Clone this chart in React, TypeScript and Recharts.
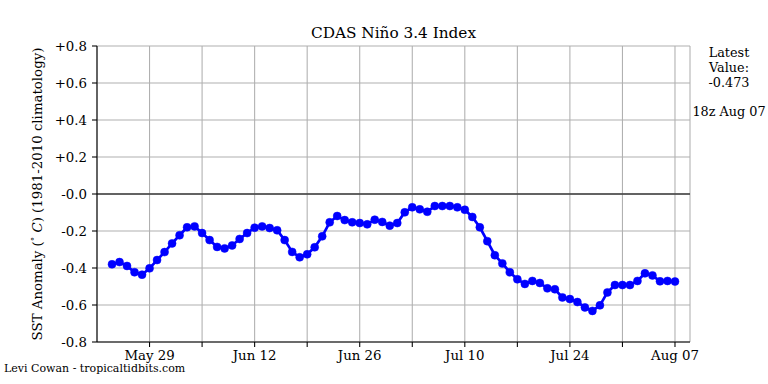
import React from 'react';
import { LineChart, Line, XAxis, YAxis, CartesianGrid, ReferenceLine } from 'recharts';

const axisStart = '05-22';
const axisEnd = '08-09';

const dates = [
  '05-24', '05-25', '05-26', '05-27', '05-28', '05-29', '05-30', '05-31',
  '06-01', '06-02', '06-03', '06-04', '06-05', '06-06', '06-07', '06-08', '06-09', '06-10',
  '06-11', '06-12', '06-13', '06-14', '06-15', '06-16', '06-17', '06-18', '06-19', '06-20',
  '06-21', '06-22', '06-23', '06-24', '06-25', '06-26', '06-27', '06-28', '06-29', '06-30',
  '07-01', '07-02', '07-03', '07-04', '07-05', '07-06', '07-07', '07-08', '07-09', '07-10',
  '07-11', '07-12', '07-13', '07-14', '07-15', '07-16', '07-17', '07-18', '07-19', '07-20',
  '07-21', '07-22', '07-23', '07-24', '07-25', '07-26', '07-27', '07-28', '07-29', '07-30',
  '07-31', '08-01', '08-02', '08-03', '08-04', '08-05', '08-06', '08-07',
];

const values = [
  -0.380, -0.368, -0.389, -0.423, -0.436, -0.402, -0.357, -0.314,
  -0.267, -0.223, -0.180, -0.175, -0.211, -0.249, -0.286, -0.294, -0.278, -0.243,
  -0.211, -0.182, -0.175, -0.184, -0.196, -0.249, -0.313, -0.342, -0.326, -0.288,
  -0.229, -0.153, -0.119, -0.141, -0.153, -0.157, -0.164, -0.139, -0.151, -0.171,
  -0.157, -0.099, -0.072, -0.083, -0.096, -0.065, -0.065, -0.065, -0.072, -0.085,
  -0.124, -0.180, -0.255, -0.331, -0.375, -0.423, -0.461, -0.486, -0.470, -0.481,
  -0.510, -0.515, -0.559, -0.568, -0.584, -0.613, -0.632, -0.602, -0.532, -0.492,
  -0.492, -0.492, -0.470, -0.429, -0.440, -0.472, -0.470, -0.473,
];

const tickDates = ['05-29', '06-05', '06-12', '06-19', '06-26', '07-03', '07-10', '07-17', '07-24', '07-31', '08-07'];
const tickLabels = ['May 29', '', 'Jun 12', '', 'Jun 26', '', 'Jul 10', '', 'Jul 24', '', 'Aug 07'];

const yTicks = [-0.8, -0.6, -0.4, -0.2, 0, 0.2, 0.4, 0.6, 0.8];

const titleText = 'CDAS Niño 3.4 Index';
const latestLines = ['Latest', 'Value:', '-0.473'];
const latestTime = '18z Aug 07';
const creditText = 'Levi Cowan - tropicaltidbits.com';

const toDay = (md: string) => {
  const [m, d] = md.split('-').map(Number);
  const [m0, d0] = axisStart.split('-').map(Number);
  return (Date.UTC(2000, m - 1, d) - Date.UTC(2000, m0 - 1, d0)) / 86400000;
};

const data = dates.map((d, i) => ({ day: toDay(d), value: values[i] }));
const xTicks = tickDates.map(toDay);
const xDomain = [toDay(axisStart), toDay(axisEnd)];

const FONT = '"DejaVu Serif", serif';

const fmtY = (v: number) => {
  if (Math.abs(v) < 1e-9) return '-0.0';
  return (v > 0 ? '+' : '') + v.toFixed(1);
};

const fmtX = (v: number) => {
  const idx = xTicks.findIndex((t) => Math.abs(t - v) < 1e-6);
  return idx >= 0 ? tickLabels[idx] : '';
};

const YLabel = (props: any) => {
  const vb = props.viewBox || {};
  const cx = vb.x;
  const cy = vb.y + vb.height / 2;
  return (
    <text
      x={cx}
      y={cy}
      transform={`rotate(-90 ${cx} ${cy})`}
      textAnchor="middle"
      dominantBaseline="central"
      fontFamily={FONT}
      fontSize={13.33}
      fill="#000"
    >
      SST Anomaly (
      <tspan fontSize={9} dy={-5}>∘</tspan>
      <tspan dy={5}> </tspan>
      <tspan fontStyle="italic">C</tspan>) (1981-2010 climatology)
    </text>
  );
};

export default function App() {
  return (
    <div style={{ position: 'absolute', left: 0, top: 0, width: 768, height: 384, background: '#fff', fontFamily: FONT }}>
      <LineChart width={768} height={384} data={data} margin={{ top: 46, right: 78, bottom: 12, left: 37 }}>
        <CartesianGrid stroke="#b0b0b0" strokeWidth={1.07} />
        <XAxis
          dataKey="day"
          type="number"
          domain={xDomain}
          ticks={xTicks}
          tickFormatter={fmtX}
          allowDataOverflow
          height={30}
          tickSize={5}
          tickMargin={4}
          axisLine={{ stroke: '#000', strokeWidth: 1.07 }}
          tickLine={{ stroke: '#000', strokeWidth: 1.07 }}
          tick={{ fill: '#000', fontSize: 13.33, fontFamily: FONT }}
          interval={0}
        />
        <XAxis
          xAxisId="top"
          orientation="top"
          dataKey="day"
          type="number"
          domain={xDomain}
          height={0}
          tick={false}
          tickLine={false}
          axisLine={{ stroke: '#000', strokeWidth: 1.07 }}
        />
        <YAxis
          type="number"
          domain={[-0.8, 0.8]}
          ticks={yTicks}
          tickFormatter={fmtY}
          width={60}
          tickSize={5}
          tickMargin={5}
          interval={0}
          axisLine={{ stroke: '#000', strokeWidth: 1.07 }}
          tickLine={{ stroke: '#000', strokeWidth: 1.07 }}
          tick={{ fill: '#000', fontSize: 13.33, fontFamily: FONT }}
          label={{ content: <YLabel /> }}
        />
        <YAxis
          yAxisId="right"
          orientation="right"
          type="number"
          domain={[-0.8, 0.8]}
          width={0}
          tick={false}
          tickLine={false}
          axisLine={{ stroke: '#000', strokeWidth: 1.07 }}
        />
        <ReferenceLine y={0} stroke="#3c3c3c" strokeWidth={1.3} />
        <Line
          dataKey="value"
          type="linear"
          stroke="#0000ff"
          strokeWidth={2.7}
          dot={{ r: 4, fill: '#0000ff', stroke: '#0000ff', strokeWidth: 0.5 }}
          activeDot={false}
          isAnimationActive={false}
        />
      </LineChart>
      <div style={{ position: 'absolute', left: 97, width: 593, top: 24, textAlign: 'center', fontSize: 15.3, lineHeight: '18px', color: '#000' }}>
        {titleText}
      </div>
      <div style={{ position: 'absolute', left: 690, width: 78, top: 45, textAlign: 'center', fontSize: 12.8, lineHeight: '15px', color: '#000' }}>
        {latestLines.map((l) => (
          <div key={l}>{l}</div>
        ))}
      </div>
      <div style={{ position: 'absolute', left: 690, width: 78, top: 104, textAlign: 'center', fontSize: 12.8, lineHeight: '15px', color: '#000', whiteSpace: 'nowrap' }}>
        {latestTime}
      </div>
      <div style={{ position: 'absolute', left: 4, top: 362, fontSize: 11, lineHeight: '14px', color: '#000', whiteSpace: 'nowrap' }}>
        {creditText}
      </div>
    </div>
  );
}
